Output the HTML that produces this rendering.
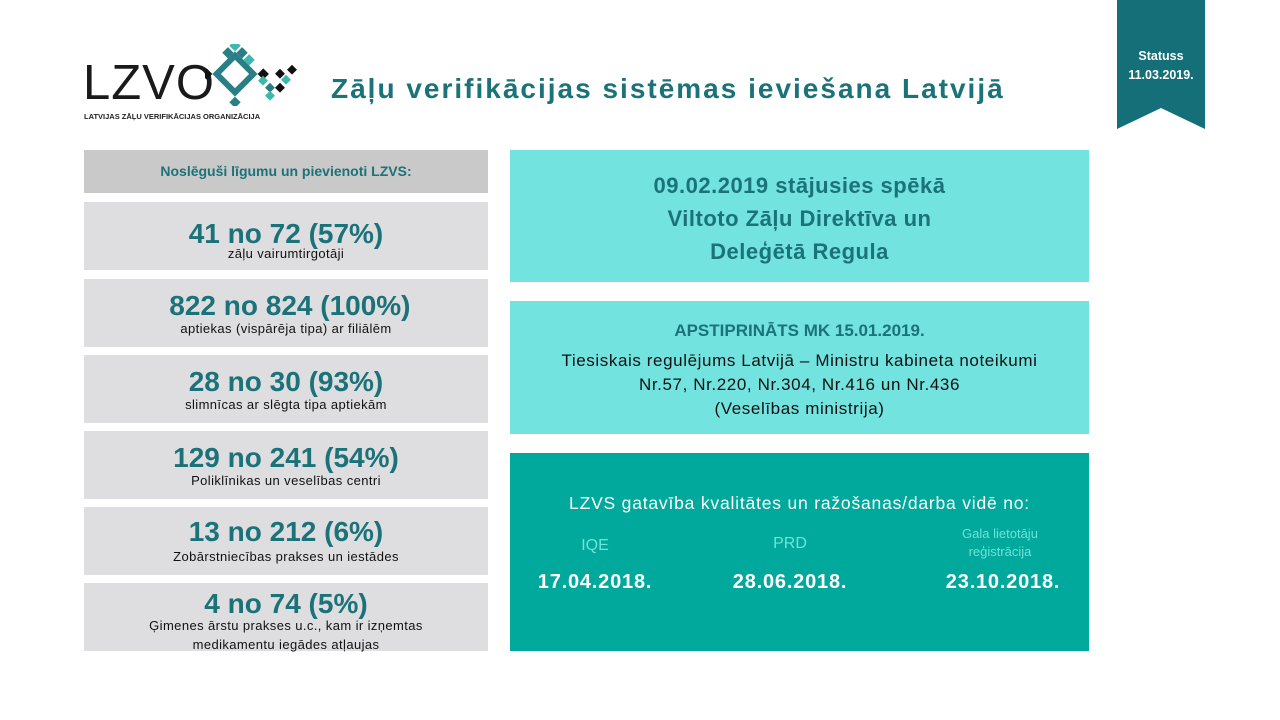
<!DOCTYPE html>
<html><head><meta charset="utf-8"><style>
*{margin:0;padding:0;box-sizing:border-box}
body{width:1280px;height:720px;background:#fff;position:relative;overflow:hidden;font-family:"Liberation Sans","DejaVu Sans",sans-serif}
.a{position:absolute}
.c{text-align:center;white-space:nowrap}
.lb{left:84px;width:404px;background:#dedee0;height:68px}
.big{color:#1b7279;font-weight:bold;font-size:28px;line-height:30px}
.sm{color:#111;font-size:13px;line-height:16px;letter-spacing:0.4px}
.rb{left:510px;width:579px}
</style></head><body>
<!-- logo -->
<div class="a" style="left:83px;top:58px;font-size:49px;line-height:50px;color:#1a1a1a;letter-spacing:1px">LZVO</div>
<svg class="a" style="left:205px;top:44px" width="95" height="62" viewBox="0 0 95 62">
<g transform="rotate(45 30 30)">
<rect x="17" y="17" width="26" height="26" fill="none" stroke="#2a7f86" stroke-width="6"/>
<rect x="6" y="6" width="8" height="8" fill="#3cb8ad"/><rect x="16" y="6" width="8" height="8" fill="#2a7f86"/><rect x="26" y="6" width="8" height="8" fill="#3cb8ad"/>
<rect x="6" y="16" width="8" height="8" fill="#2a7f86"/><rect x="46" y="46" width="8" height="8" fill="#2a7f86"/>
<rect x="6" y="46" width="8" height="8" fill="#111"/><rect x="46" y="6" width="8" height="8" fill="#111"/>
</g>
<rect x="55" y="33" width="7" height="7" fill="#3cb8ad" transform="rotate(45 58 36)"/>
<rect x="62" y="40" width="7" height="7" fill="#2a7f86" transform="rotate(45 65 43)"/>
<rect x="72" y="26" width="7" height="7" fill="#111" transform="rotate(45 75 29)"/>
<rect x="78" y="32" width="7" height="7" fill="#3cb8ad" transform="rotate(45 81 35)"/>
<rect x="84" y="22" width="7" height="7" fill="#111" transform="rotate(45 87 25)"/>
<rect x="72" y="40" width="7" height="7" fill="#111" transform="rotate(45 75 43)"/>
<rect x="62" y="48" width="7" height="7" fill="#3cb8ad" transform="rotate(45 65 51)"/>
</svg>
<div class="a" style="left:84px;top:112px;font-size:7.5px;font-weight:bold;color:#222;white-space:nowrap">LATVIJAS ZĀĻU VERIFIKĀCIJAS ORGANIZĀCIJA</div>
<div class="a" style="left:331px;top:73px;font-size:28px;letter-spacing:2px;font-weight:bold;color:#1b7279;white-space:nowrap">Zāļu verifikācijas sistēmas ieviešana Latvijā</div>
<!-- banner -->
<svg class="a" style="left:1117px;top:0" width="88" height="130"><polygon points="0,0 88,0 88,129 44,108 0,129" fill="#146f78"/></svg>
<div class="a c" style="left:1117px;top:47px;width:88px;color:#fff;font-weight:bold;font-size:12.5px;line-height:19px">Statuss<br>11.03.2019.</div>
<!-- left -->
<div class="a c" style="left:84px;top:150px;width:404px;height:43px;background:#c9c9c9;color:#1b7279;font-weight:bold;font-size:14px;line-height:43px">Noslēguši līgumu un pievienoti LZVS:</div>
<div class="a lb c" style="top:202px"><div class="big" style="margin-top:17px">41 no 72 (57%)</div><div class="sm" style="margin-top:-3px">zāļu vairumtirgotāji</div></div>
<div class="a lb c" style="top:279px"><div class="big" style="margin-top:12px">&nbsp;822 no 824 (100%)</div><div class="sm">aptiekas (vispārēja tipa) ar filiālēm</div></div>
<div class="a lb c" style="top:355px"><div class="big" style="margin-top:12px">28 no 30 (93%)</div><div class="sm">slimnīcas ar slēgta tipa aptiekām</div></div>
<div class="a lb c" style="top:431px"><div class="big" style="margin-top:12px">129 no 241 (54%)</div><div class="sm">Poliklīnikas un veselības centri</div></div>
<div class="a lb c" style="top:507px"><div class="big" style="margin-top:10px">13 no 212 (6%)</div><div class="sm" style="margin-top:2px">Zobārstniecības prakses un iestādes</div></div>
<div class="a lb c" style="top:583px"><div class="big" style="margin-top:6px">4 no 74 (5%)</div><div class="sm" style="margin-top:-3px;line-height:19px">Ģimenes ārstu prakses u.c., kam ir izņemtas<br>medikamentu iegādes atļaujas</div></div>
<!-- right -->
<div class="a rb c" style="top:150px;height:132px;background:#72e3df;color:#1b7279;font-weight:bold;font-size:22px;line-height:33px;letter-spacing:0.5px;padding-top:19px">09.02.2019 stājusies spēkā<br>Viltoto Zāļu Direktīva un<br>Deleģētā Regula</div>
<div class="a rb c" style="top:301px;height:133px;background:#72e3df">
<div style="color:#1b7279;font-weight:bold;font-size:17px;margin-top:20px">APSTIPRINĀTS MK 15.01.2019.</div>
<div style="color:#111;font-size:17px;letter-spacing:0.6px;line-height:24px;margin-top:8px">Tiesiskais regulējums Latvijā – Ministru kabineta noteikumi<br>Nr.57, Nr.220, Nr.304, Nr.416 un Nr.436<br>(Veselības ministrija)</div></div>
<div class="a rb" style="top:453px;height:198px;background:#01a89c">
<div class="a c" style="left:0;width:579px;top:40px;color:#fff;font-size:17.5px;letter-spacing:0.8px">LZVS gatavība kvalitātes un ražošanas/darba vidē no:</div>
<div class="a c" style="left:40px;width:90px;top:84px;color:#6fe3dc;font-size:16px">IQE</div>
<div class="a c" style="left:240px;width:80px;top:82px;color:#6fe3dc;font-size:16px">PRD</div>
<div class="a c" style="left:410px;width:160px;top:72px;color:#6fe3dc;font-size:13px;line-height:18px">Gala lietotāju<br>reģistrācija</div>
<div class="a c" style="left:0;width:170px;top:118px;color:#fff;font-weight:bold;font-size:20px;letter-spacing:0.8px">17.04.2018.</div>
<div class="a c" style="left:195px;width:170px;top:118px;color:#fff;font-weight:bold;font-size:20px;letter-spacing:0.8px">28.06.2018.</div>
<div class="a c" style="left:408px;width:170px;top:118px;color:#fff;font-weight:bold;font-size:20px;letter-spacing:0.8px">23.10.2018.</div>
</div>
</body></html>
